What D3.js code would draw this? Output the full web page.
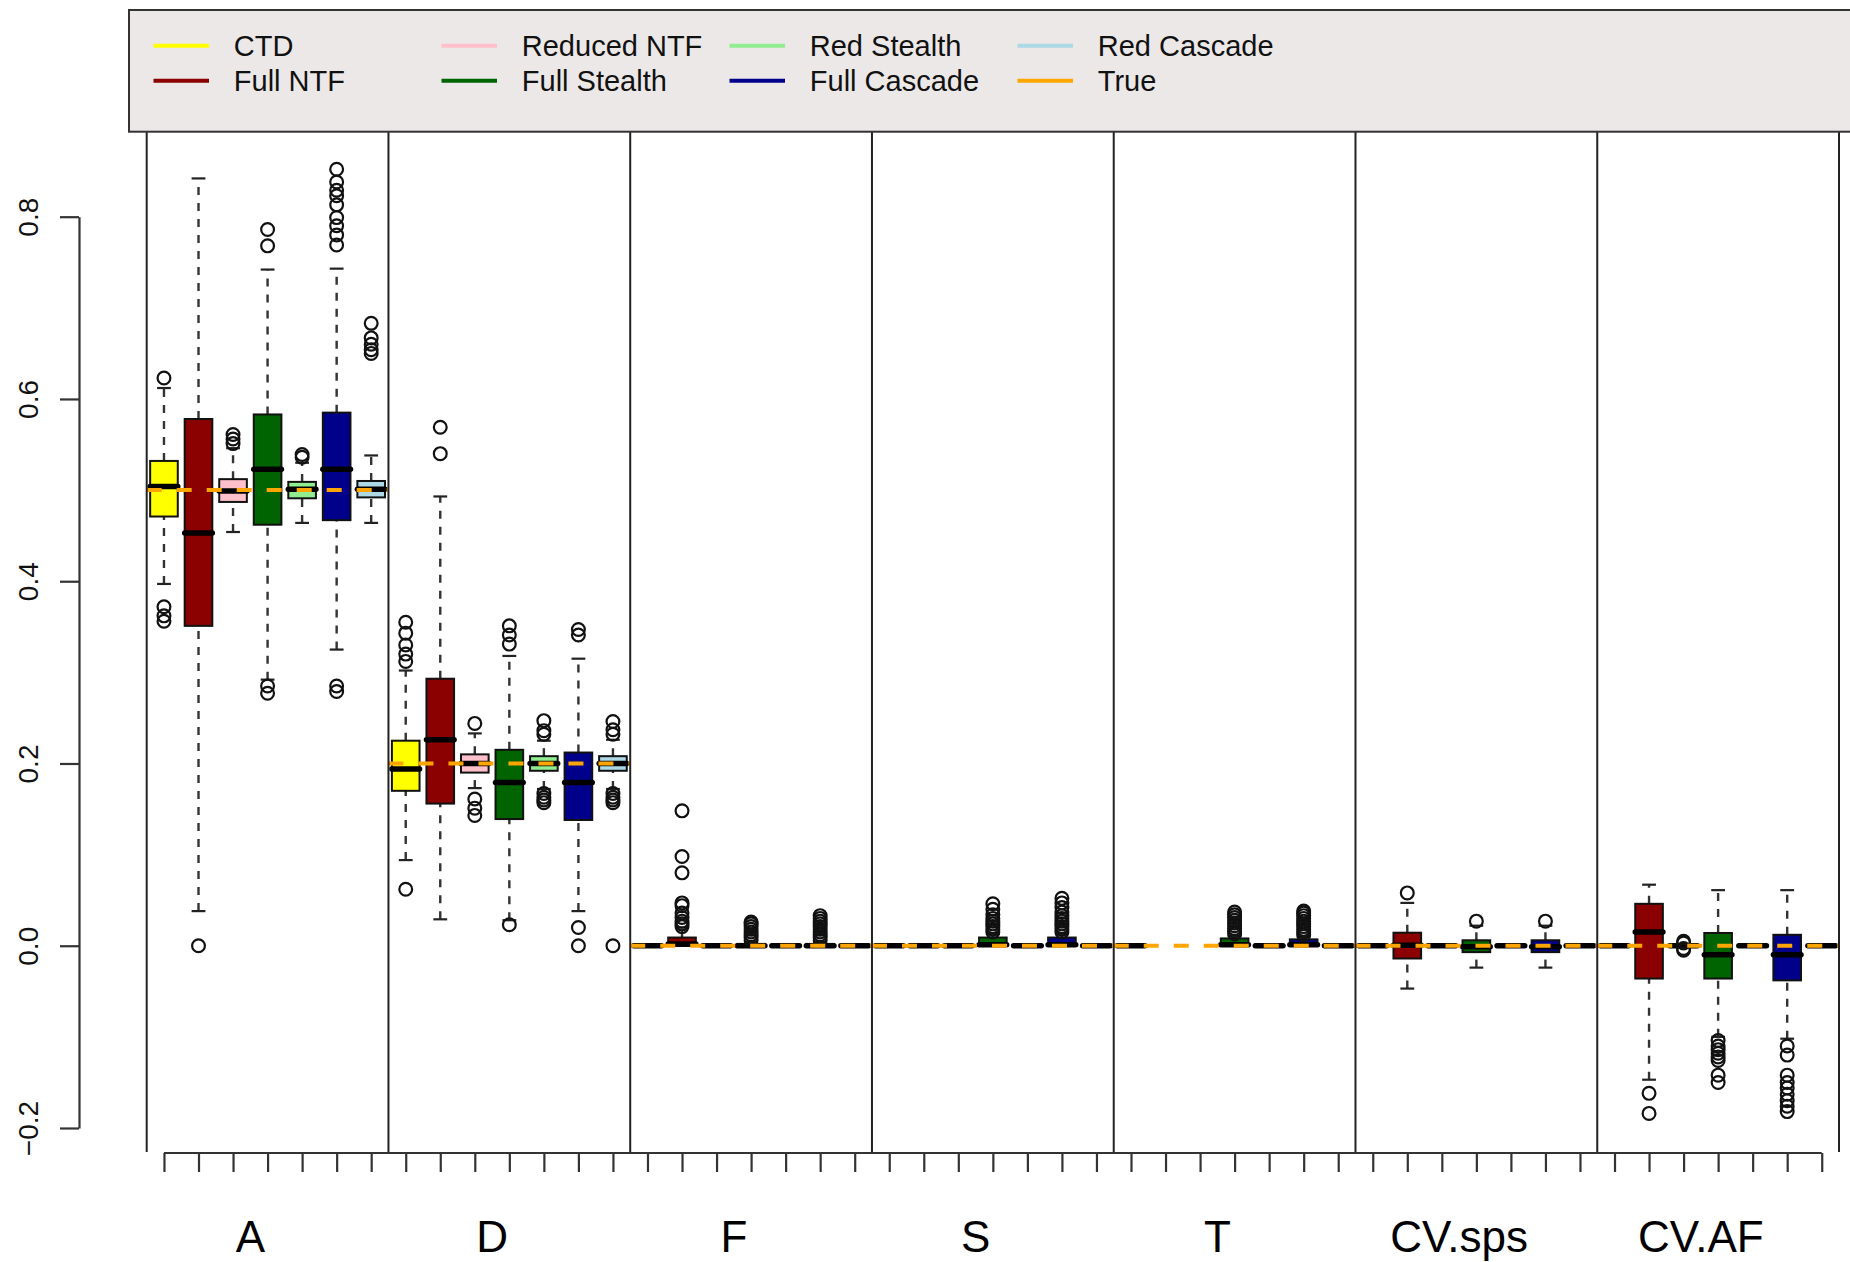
<!DOCTYPE html>
<html lang="en">
<head>
<meta charset="utf-8">
<title>Estimates by model</title>
<script src="https://cdn.jsdelivr.net/npm/d3@7"></script>
<style>
	body { margin: 0; background: white; }
	svg { display: block; font-family: "Liberation Sans", Arial, Helvetica, sans-serif; }
</style>
</head>
<body>
<svg id="chart" width="1850" height="1262"></svg>
<script>

// categories and series
var groups = ["A", "D", "F", "S", "T", "CV.sps", "CV.AF"]
var seriesNames = ["CTD", "Full NTF", "Reduced NTF", "Full Stealth", "Red Stealth", "Full Cascade", "Red Cascade"]
var seriesColors = ["#ffff00", "#8b0000", "#ffc0cb", "#006400", "#90ee90", "#00008b", "#add8e6"]
var trueColor = "#ffa500"
var trueValues = [0.5, 0.2, 0, 0, 0, 0, 0]
var yTicks = [-0.2, 0, 0.2, 0.4, 0.6, 0.8]

// box stats, one entry per series: [low whisker, q1, median, q3, high whisker], null = not drawn
var zero = [0, 0, 0, 0, 0]
var statsA = [
	[0.397, 0.471, 0.504, 0.532, 0.612],
	[0.038, 0.351, 0.453, 0.578, 0.842],
	[0.454, 0.487, 0.499, 0.512, 0.546],
	[0.292, 0.462, 0.523, 0.583, 0.742],
	[0.464, 0.491, 0.501, 0.509, 0.530],
	[0.325, 0.467, 0.523, 0.585, 0.743],
	[0.464, 0.492, 0.501, 0.510, 0.538]]
var outA = [
	[0.623, 0.372, 0.362, 0.356],
	[0.0],
	[0.561, 0.556, 0.551],
	[0.786, 0.768, 0.285, 0.277],
	[0.539, 0.536],
	[0.852, 0.838, 0.829, 0.823, 0.813, 0.799, 0.790, 0.780, 0.769, 0.285, 0.279],
	[0.683, 0.667, 0.660, 0.654, 0.650]]

var statsD = [
	[0.094, 0.170, 0.194, 0.225, 0.302],
	[0.029, 0.156, 0.226, 0.293, 0.493],
	[0.173, 0.190, 0.200, 0.210, 0.233],
	[0.028, 0.139, 0.179, 0.215, 0.318],
	[0.172, 0.192, 0.200, 0.208, 0.225],
	[0.038, 0.138, 0.179, 0.212, 0.315],
	[0.172, 0.192, 0.200, 0.208, 0.226]]
var outD = [
	[0.355, 0.343, 0.330, 0.320, 0.312, 0.062],
	[0.569, 0.540],
	[0.244, 0.161, 0.151, 0.143],
	[0.351, 0.341, 0.331, 0.023],
	[0.247, 0.236, 0.232, 0.167, 0.163, 0.160, 0.157],
	[0.347, 0.341, 0.020, 0.0],
	[0.246, 0.237, 0.232, 0.167, 0.163, 0.160, 0.157, 0.0]]

var statsF = [
	zero,
	[0, 0, 0.002, 0.009, 0.020],
	zero,
	[0, 0, 0, 0.002, 0.004],
	zero,
	[0, 0, 0, 0.002, 0.004],
	zero]
var outF = [
	[],
	[0.148, 0.098, 0.080, 0.047, 0.044, 0.036, 0.031, 0.027, 0.024, 0.021],
	[],
	[0.006, 0.009, 0.012, 0.015, 0.018, 0.021, 0.024, 0.026],
	[],
	[0.006, 0.009, 0.012, 0.015, 0.018, 0.021, 0.024, 0.027, 0.030, 0.033],
	[]]

var statsS = [
	zero, zero, zero,
	[0, 0, 0.001, 0.009, 0.013],
	zero,
	[0, 0, 0.001, 0.009, 0.013],
	zero]
var outS = [
	[], [], [],
	[0.015, 0.018, 0.021, 0.024, 0.027, 0.030, 0.034, 0.040, 0.046],
	[],
	[0.015, 0.018, 0.021, 0.024, 0.027, 0.030, 0.033, 0.037, 0.042, 0.047, 0.052],
	[]]

var statsT = [
	zero, null, null,
	[0, 0, 0.001, 0.008, 0.011],
	zero,
	[0, 0, 0.001, 0.007, 0.010],
	zero]
var outT = [
	[], [], [],
	[0.013, 0.016, 0.019, 0.022, 0.025, 0.028, 0.031, 0.034, 0.037],
	[],
	[0.012, 0.015, 0.018, 0.021, 0.024, 0.027, 0.030, 0.033, 0.036, 0.038],
	[]]

var statsCVsps = [
	zero,
	[-0.047, -0.014, 0.0005, 0.0143, 0.047],
	zero,
	[-0.024, -0.007, -0.001, 0.006, 0.022],
	zero,
	[-0.024, -0.007, -0.001, 0.006, 0.022],
	zero]
var outCVsps = [
	[], [0.058], [], [0.027], [], [0.027], []]

var statsCVAF = [
	zero,
	[-0.147, -0.036, 0.015, 0.046, 0.067],
	zero,
	[-0.100, -0.036, -0.010, 0.014, 0.061],
	zero,
	[-0.102, -0.038, -0.010, 0.012, 0.061],
	zero]
var outCVAF = [
	[],
	[-0.162, -0.184],
	[0.005, 0.003, -0.003, -0.005],
	[-0.104, -0.110, -0.114, -0.118, -0.122, -0.126, -0.142, -0.150],
	[],
	[-0.110, -0.120, -0.142, -0.150, -0.156, -0.163, -0.170, -0.176, -0.182],
	[]]

var allStats = [statsA, statsD, statsF, statsS, statsT, statsCVsps, statsCVAF]
var allOut = [outA, outD, outF, outS, outT, outCVsps, outCVAF]

// ---- drawing ----
var svg = d3.select("#chart")
var nSer = seriesNames.length
var x = d3.scaleLinear().domain([0.5, groups.length * nSer + 0.5]).range([146.7, 1839])
var y = d3.scaleLinear().domain([-0.2, 0.8]).range([1128, 216.7])
var boxW = (x(2) - x(1)) * 0.8
var plotTop = 131, plotBottom = 1152

var boxes = []
groups.forEach(function(g, gi) {
	allStats[gi].forEach(function(s, si) {
		if (!s) return
		boxes.push({pos: gi * nSer + si + 1, s: s, out: allOut[gi][si], color: seriesColors[si]})
	})
})

var bg = svg.append("g").attr("class", "boxes")
var b = bg.selectAll("g").data(boxes).enter().append("g")
	.attr("transform", function(d) { return "translate(" + x(d.pos) + ",0)" })

// whiskers
b.append("line").attr("y1", function(d) { return y(d.s[0]) }).attr("y2", function(d) { return y(d.s[1]) })
b.append("line").attr("y1", function(d) { return y(d.s[3]) }).attr("y2", function(d) { return y(d.s[4]) })
b.selectAll("line").attr("x1", 0).attr("x2", 0)
	.attr("stroke", "#333").attr("stroke-width", 2.4).attr("stroke-dasharray", "8,8")
// staples
b.selectAll(".staple").data(function(d) { return [d.s[0], d.s[4]] }).enter().append("line")
	.attr("class", "staple")
	.attr("x1", -boxW / 4).attr("x2", boxW / 4)
	.attr("y1", function(v) { return y(v) }).attr("y2", function(v) { return y(v) })
	.attr("stroke", "#222").attr("stroke-width", 2.2)
// box
b.append("rect")
	.attr("x", -boxW / 2).attr("width", boxW)
	.attr("y", function(d) { return y(d.s[3]) })
	.attr("height", function(d) { return y(d.s[1]) - y(d.s[3]) })
	.attr("fill", function(d) { return d.color })
	.attr("stroke", "#111").attr("stroke-width", 2)
// median
b.append("line")
	.attr("x1", -boxW / 2).attr("x2", boxW / 2)
	.attr("y1", function(d) { return y(d.s[2]) }).attr("y2", function(d) { return y(d.s[2]) })
	.attr("stroke", "#000").attr("stroke-width", 5.5).attr("stroke-linecap", "round")
// outliers
b.selectAll("circle").data(function(d) { return d.out }).enter().append("circle")
	.attr("cx", 0).attr("cy", function(v) { return y(v) }).attr("r", 6.4)
	.attr("fill", "none").attr("stroke", "#111").attr("stroke-width", 2.2)

// true values, one dashed segment per group
svg.append("g").selectAll("line").data(trueValues).enter().append("line")
	.attr("x1", function(v, i) { return x(i * nSer + 0.5) })
	.attr("x2", function(v, i) { return x((i + 1) * nSer + 0.5) })
	.attr("y1", function(v) { return y(v) }).attr("y2", function(v) { return y(v) })
	.attr("stroke", trueColor).attr("stroke-width", 4).attr("stroke-dasharray", "15,15")

// group separators
svg.append("g").selectAll("line").data(d3.range(groups.length + 1)).enter().append("line")
	.attr("x1", function(i) { return x(i * nSer + 0.5) }).attr("x2", function(i) { return x(i * nSer + 0.5) })
	.attr("y1", plotTop).attr("y2", plotBottom)
	.attr("stroke", "#222").attr("stroke-width", 2)

// y axis
var yAxis = svg.append("g").attr("transform", "translate(79,0)")
	.call(d3.axisLeft(y).tickValues(yTicks).tickSize(19).tickSizeOuter(0).tickFormat(d3.format(".1f")))
yAxis.attr("font-family", null).attr("font-size", null)
yAxis.selectAll("path, line").attr("stroke", "#333").attr("stroke-width", 2.2)
yAxis.selectAll("text")
	.attr("x", null).attr("dy", null)
	.attr("text-anchor", "middle")
	.attr("transform", "translate(-41,0) rotate(-90)")
	.attr("font-size", 28).attr("fill", "#111")

// x axis: a tick per box position, labels at group centres
var xAxis = svg.append("g").attr("transform", "translate(0," + (plotBottom + 1) + ")")
	.call(d3.axisBottom(x).tickValues(d3.range(1, groups.length * nSer + 1)).tickSize(19).tickSizeOuter(0).tickFormat(""))
xAxis.select(".domain").attr("d", "M" + x(1) + ",0H" + x(groups.length * nSer))
xAxis.selectAll("path, line").attr("stroke", "#333").attr("stroke-width", 2.2)
svg.append("g").selectAll("text").data(groups).enter().append("text")
	.attr("x", function(g, i) { return x(i * nSer + 3.5) })
	.attr("y", 1252)
	.attr("text-anchor", "middle")
	.attr("font-size", 44).attr("fill", "#000")
	.text(function(g) { return g })

// legend
var legendNames = seriesNames.concat(["True"])
var legendColors = seriesColors.concat([trueColor])
var lg = svg.append("g")
lg.append("rect").attr("x", 129).attr("y", 10).attr("width", 1760).attr("height", 121.7)
	.attr("fill", "#ece8e8").attr("stroke", "#333").attr("stroke-width", 2)
var li = lg.selectAll(".item").data(legendNames).enter().append("g")
	.attr("transform", function(d, i) {
		return "translate(" + (153.5 + 288 * Math.floor(i / 2)) + "," + (45.7 + 35 * (i % 2)) + ")"
	})
li.append("line").attr("x1", 0).attr("x2", 55.5).attr("y1", 0).attr("y2", 0)
	.attr("stroke", function(d, i) { return legendColors[i] }).attr("stroke-width", 4)
li.append("text").attr("x", 80.3).attr("y", 10.4)
	.attr("font-size", 29).attr("fill", "#111")
	.text(function(d) { return d })

</script>
</body>
</html>
